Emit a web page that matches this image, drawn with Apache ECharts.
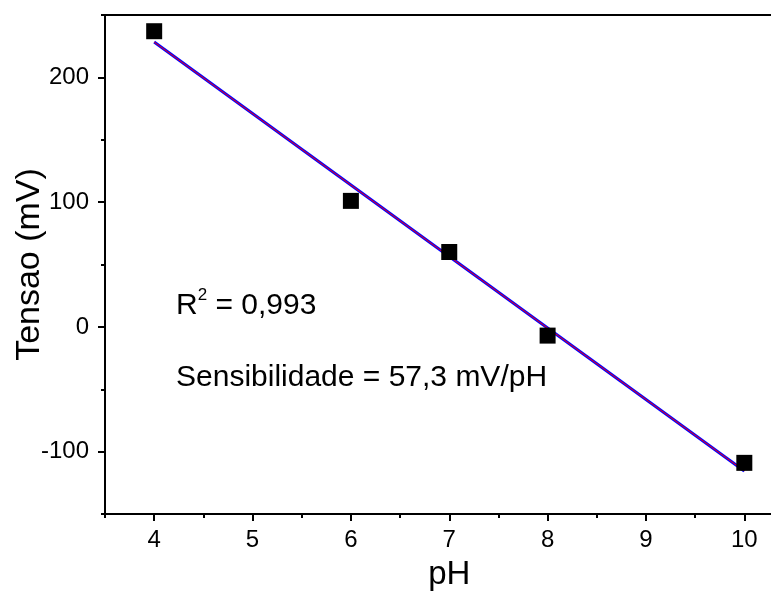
<!DOCTYPE html>
<html>
<head>
<meta charset="utf-8">
<script src="https://cdn.jsdelivr.net/npm/echarts@6/dist/echarts.min.js"></script>
<style>
  html, body { margin: 0; padding: 0; background: #fff; }
  #chart { width: 771px; height: 591px; }
</style>
</head>
<body>
<div id="chart"></div>
<script>
// measured points
var phValues = [4, 6, 7, 8, 10];
var tensaoValues = [237, 101, 60, -7, -109];

// linear fit (ends of the fitted line)
var fitPh = [4, 10];
var fitTensao = [228.3, -115.5];

// tick labels
var xMajorTicks = [4, 5, 6, 7, 8, 9, 10];
var yMajorTicks = [-100, 0, 100, 200];

var fontFam = 'Liberation Sans, Arial, sans-serif';

var chart = echarts.init(document.getElementById('chart'));

var pointData = phValues.map(function(x, i){ return [x, tensaoValues[i]]; });
var fitData = fitPh.map(function(x, i){ return [x, fitTensao[i]]; });

var option = {
	animation: false,
	backgroundColor: '#fff',
	grid: {
		left: 105,
		top: 15,
		bottom: 77,
		right: -22.5,
		containLabel: false,
		outerBoundsMode: 'none'
	},
	xAxis: [
		{
			// minor ticks + labels
			type: 'value',
			min: 3.5,
			max: 10.5,
			interval: 0.5,
			name: 'pH',
			nameLocation: 'middle',
			nameGap: 44,
			nameMoveOverlap: false,
			nameTextStyle: { fontSize: 33, color: '#000', fontFamily: fontFam },
			axisLine: { show: true, onZero: false, lineStyle: { color: '#000', width: 2 } },
			axisTick: { show: true, inside: false, length: 4, lineStyle: { color: '#000', width: 2 } },
			axisLabel: {
				margin: 14,
				fontSize: 24,
				color: '#000',
				fontFamily: fontFam,
				formatter: function(v){
					return xMajorTicks.indexOf(v) >= 0 ? String(v) : '';
				}
			},
			splitLine: { show: false }
		},
		{
			// major ticks
			type: 'value',
			position: 'bottom',
			min: 3.5,
			max: 10.5,
			axisLine: { show: false, onZero: false },
			axisTick: { show: true, length: 7, customValues: xMajorTicks, lineStyle: { color: '#000', width: 2 } },
			axisLabel: { show: false },
			splitLine: { show: false }
		},
		{
			// top border of the frame
			type: 'value',
			position: 'top',
			min: 3.5,
			max: 10.5,
			axisLine: { show: true, onZero: false, lineStyle: { color: '#000', width: 2 } },
			axisTick: { show: false },
			axisLabel: { show: false },
			splitLine: { show: false }
		}
	],
	yAxis: [
		{
			type: 'value',
			min: -150,
			max: 250,
			interval: 50,
			name: 'Tensao (mV)',
			nameLocation: 'middle',
			nameGap: 58,
			nameMoveOverlap: false,
			nameTextStyle: { fontSize: 34, color: '#000', fontFamily: fontFam },
			axisLine: { show: true, onZero: false, lineStyle: { color: '#000', width: 2 } },
			axisTick: { show: true, length: 4, lineStyle: { color: '#000', width: 2 } },
			axisLabel: {
				margin: 16,
				fontSize: 24,
				color: '#000',
				fontFamily: fontFam,
				formatter: function(v){
					return yMajorTicks.indexOf(v) >= 0 ? String(v) : '';
				}
			},
			splitLine: { show: false }
		},
		{
			type: 'value',
			position: 'left',
			min: -150,
			max: 250,
			axisLine: { show: false, onZero: false },
			axisTick: { show: true, length: 7, customValues: yMajorTicks, lineStyle: { color: '#000', width: 2 } },
			axisLabel: { show: false },
			splitLine: { show: false }
		}
	],
	series: [
		{
			name: 'fit outline',
			type: 'line',
			data: fitData,
			symbol: 'none',
			lineStyle: { color: '#0000ff', width: 3 },
			z: 2
		},
		{
			name: 'fit',
			type: 'line',
			data: fitData,
			symbol: 'none',
			lineStyle: { color: '#ff0000', width: 1 },
			z: 3
		},
		{
			name: 'pontos',
			type: 'scatter',
			data: pointData,
			symbol: 'rect',
			symbolSize: 16,
			itemStyle: { color: '#000', opacity: 1 },
			z: 4
		}
	],
	graphic: [
		{
			type: 'text',
			left: 176,
			top: 287,
			style: {
				text: '{a|R}{s|2}{a| = 0,993}',
				rich: {
					a: { fontSize: 30, fontFamily: fontFam, fill: '#000', color: '#000', lineHeight: 34, verticalAlign: 'bottom' },
					s: { fontSize: 17, fontFamily: fontFam, fill: '#000', color: '#000', lineHeight: 34, verticalAlign: 'top' }
				}
			}
		},
		{
			type: 'text',
			left: 176,
			top: 363,
			style: {
				text: 'Sensibilidade = 57,3 mV/pH',
				fontSize: 30,
				fontFamily: fontFam,
				fill: '#000'
			}
		}
	]
};

chart.setOption(option);
</script>
</body>
</html>
